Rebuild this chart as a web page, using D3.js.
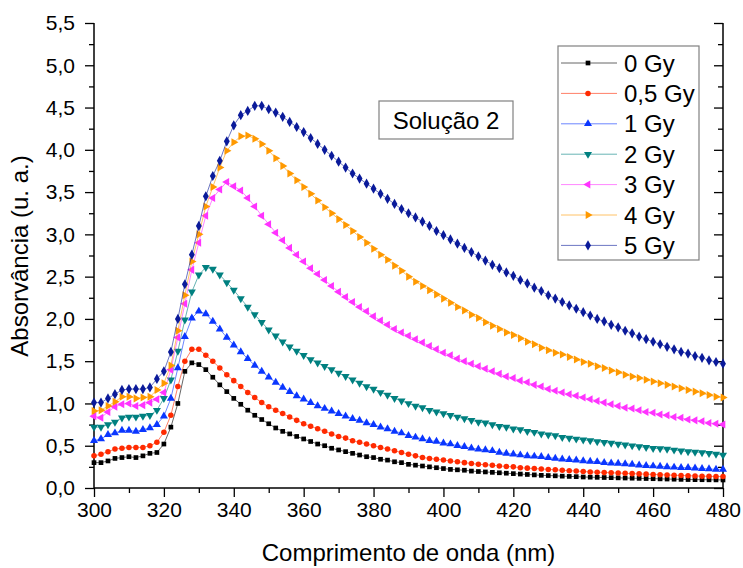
<!DOCTYPE html>
<html><head><meta charset="utf-8">
<script src="https://cdn.jsdelivr.net/npm/d3@7"></script>
<style>body{margin:0;background:#fff}svg{display:block;font-family:"Liberation Sans",Arial,sans-serif}</style>
</head><body><svg id="c" width="743" height="568"></svg>
<script>
const wavelengths = [300,302,304,306,308,310,312,314,316,318,320,322,324,326,328,330,332,334,336,338,340,342,344,346,348,350,352,354,356,358,360,362,364,366,368,370,372,374,376,378,380,382,384,386,388,390,392,394,396,398,400,402,404,406,408,410,412,414,416,418,420,422,424,426,428,430,432,434,436,438,440,442,444,446,448,450,452,454,456,458,460,462,464,466,468,470,472,474,476,478,480];
const seriesNames = ["0 Gy","0,5 Gy","1 Gy","2 Gy","3 Gy","4 Gy","5 Gy"];
const gy0 = [0.30,0.30,0.32,0.35,0.36,0.37,0.36,0.38,0.41,0.42,0.52,0.72,1.00,1.38,1.48,1.46,1.40,1.31,1.22,1.14,1.06,0.99,0.92,0.86,0.81,0.76,
0.71,0.67,0.64,0.61,0.58,0.55,0.52,0.50,0.47,0.45,0.43,0.41,0.39,0.37,0.36,0.34,0.33,0.31,0.30,0.28,0.27,0.26,0.25,0.24,0.23,0.22,0.215,0.21,0.20,0.195,0.19,0.185,0.18,0.175,0.17,0.165,0.16,0.155,0.15,0.147,0.144,0.14,0.137,0.134,0.13,0.128,0.126,0.124,0.122,0.12,0.118,0.116,0.114,0.112,0.11,0.108,0.106,0.104,0.102,0.10,0.099,0.098,0.097,0.096,0.095];
const gy05 = [0.38,0.40,0.43,0.46,0.47,0.48,0.48,0.48,0.50,0.54,0.66,0.86,1.20,1.50,1.64,1.64,1.57,1.50,1.42,1.34,1.27,1.20,1.13,1.07,1.01,0.96,
0.92,0.88,0.84,0.80,0.76,0.73,0.70,0.67,0.64,0.61,0.59,0.56,0.54,0.52,0.50,0.48,0.46,0.44,0.42,0.40,0.38,0.36,0.35,0.34,0.33,0.32,0.31,0.30,0.29,0.28,0.275,0.27,0.26,0.255,0.25,0.24,0.235,0.23,0.225,0.22,0.215,0.21,0.205,0.20,0.195,0.19,0.187,0.184,0.18,0.177,0.174,0.17,0.167,0.164,0.16,0.157,0.154,0.151,0.148,0.145,0.142,0.14,0.138,0.136,0.135];
const gy1 = [0.56,0.58,0.63,0.65,0.68,0.68,0.67,0.69,0.71,0.75,0.85,1.06,1.42,1.79,2.01,2.09,2.06,1.97,1.88,1.78,1.69,1.61,1.53,1.45,1.38,1.31,
1.25,1.19,1.14,1.09,1.05,1.01,0.97,0.94,0.91,0.88,0.85,0.82,0.80,0.77,0.75,0.72,0.70,0.67,0.65,0.62,0.60,0.58,0.56,0.55,0.53,0.52,0.50,0.49,0.47,0.46,0.45,0.44,0.42,0.41,0.40,0.39,0.38,0.375,0.37,0.36,0.35,0.34,0.335,0.33,0.32,0.315,0.31,0.30,0.295,0.29,0.285,0.28,0.27,0.265,0.26,0.255,0.25,0.245,0.24,0.24,0.235,0.23,0.225,0.22,0.22];
const gy2 = [0.72,0.72,0.75,0.78,0.83,0.84,0.84,0.85,0.86,0.92,1.06,1.28,1.62,1.99,2.32,2.52,2.61,2.59,2.52,2.43,2.34,2.24,2.14,2.05,1.96,1.87,
1.80,1.73,1.67,1.62,1.57,1.52,1.48,1.44,1.40,1.36,1.32,1.28,1.24,1.20,1.17,1.13,1.10,1.06,1.03,1.00,0.97,0.95,0.92,0.90,0.88,0.86,0.84,0.82,0.80,0.78,0.77,0.75,0.73,0.72,0.70,0.69,0.67,0.66,0.64,0.63,0.62,0.60,0.59,0.58,0.57,0.56,0.55,0.54,0.53,0.52,0.51,0.50,0.49,0.48,0.47,0.465,0.46,0.45,0.44,0.43,0.425,0.42,0.41,0.40,0.39];
const gy3 = [0.85,0.83,0.90,0.96,0.99,1.00,0.97,0.98,1.01,1.05,1.13,1.40,1.78,2.18,2.58,2.90,3.22,3.43,3.53,3.62,3.57,3.52,3.43,3.33,3.22,3.12,
3.02,2.93,2.84,2.76,2.68,2.60,2.53,2.46,2.39,2.32,2.26,2.20,2.14,2.09,2.03,1.98,1.93,1.88,1.84,1.80,1.76,1.72,1.68,1.64,1.60,1.57,1.53,1.50,1.47,1.44,1.41,1.38,1.35,1.32,1.30,1.27,1.25,1.22,1.20,1.17,1.15,1.13,1.11,1.09,1.07,1.05,1.03,1.01,0.99,0.97,0.95,0.94,0.92,0.90,0.89,0.87,0.86,0.84,0.83,0.81,0.80,0.79,0.77,0.76,0.75];
const gy4 = [0.91,0.92,0.97,1.02,1.08,1.08,1.06,1.07,1.08,1.16,1.24,1.45,1.86,2.28,2.68,3.00,3.33,3.56,3.79,3.99,4.09,4.16,4.17,4.13,4.07,3.99,
3.90,3.81,3.72,3.64,3.56,3.48,3.40,3.32,3.25,3.18,3.11,3.04,2.97,2.90,2.83,2.76,2.70,2.63,2.57,2.50,2.44,2.39,2.34,2.29,2.24,2.19,2.14,2.10,2.05,2.01,1.96,1.92,1.88,1.84,1.81,1.77,1.73,1.70,1.66,1.63,1.60,1.58,1.55,1.52,1.49,1.47,1.44,1.42,1.39,1.37,1.34,1.32,1.30,1.28,1.26,1.24,1.22,1.20,1.18,1.16,1.14,1.12,1.10,1.08,1.07];
const gy5 = [1.01,1.01,1.06,1.11,1.16,1.17,1.17,1.17,1.19,1.29,1.38,1.61,2.00,2.41,2.76,3.10,3.45,3.69,3.87,4.10,4.29,4.41,4.46,4.52,4.52,4.48,
4.44,4.39,4.33,4.27,4.21,4.14,4.07,4.00,3.93,3.86,3.79,3.72,3.66,3.60,3.54,3.48,3.42,3.36,3.30,3.25,3.20,3.15,3.10,3.04,2.99,2.94,2.89,2.84,2.79,2.74,2.69,2.64,2.60,2.55,2.51,2.46,2.42,2.37,2.33,2.28,2.24,2.20,2.16,2.12,2.08,2.04,2.00,1.97,1.93,1.90,1.86,1.83,1.79,1.76,1.73,1.70,1.67,1.64,1.61,1.59,1.56,1.54,1.51,1.49,1.47];
const xTicks = [300,320,340,360,380,400,420,440,460,480];
const yTicks = [0,0.5,1,1.5,2,2.5,3,3.5,4,4.5,5,5.5];

const allSeries = [gy0,gy05,gy1,gy2,gy3,gy4,gy5];
const colors = ["#000000","#ff2a00","#0a36ff","#008080","#ff33ff","#ff9900","#0a1a9a"];
const symbols = [
  {t:d3.symbolSquare, r:0, s:22},
  {t:d3.symbolCircle, r:0, s:24},
  {t:d3.symbolTriangle, r:0, s:28},
  {t:d3.symbolTriangle, r:180, s:28},
  {t:d3.symbolTriangle, r:-90, s:28},
  {t:d3.symbolTriangle, r:90, s:28},
  {t:d3.symbolDiamond, r:0, s:30}
];

const svg = d3.select("#c");
const X0=94, X1=723, Y0=488, Y1=23;
const x = d3.scaleLinear().domain([300,480]).range([X0,X1]);
const y = d3.scaleLinear().domain([0,5.5]).range([Y0,Y1]);
const fmt = v => d3.format(".1f")(v).replace(".",",");

const g = svg.append("g");
const lineC = "#000";
// left axis
const yAx = g.append("g").attr("transform",`translate(${X0},0)`)
  .call(d3.axisLeft(y).tickValues(yTicks).tickFormat(fmt).tickSize(9).tickPadding(10));
yAx.select(".domain").remove();
yAx.selectAll("text").attr("font-size",21).attr("fill","#000");
g.append("g").attr("transform",`translate(${X0},0)`)
  .call(d3.axisLeft(y).tickValues(d3.range(0.25,5.5,0.5)).tickFormat("").tickSize(5))
  .select(".domain").remove();
// right axis (inward ticks)
g.append("g").attr("transform",`translate(${X1},0)`)
  .call(d3.axisLeft(y).tickValues(yTicks).tickFormat("").tickSize(9)).select(".domain").remove();
g.append("g").attr("transform",`translate(${X1},0)`)
  .call(d3.axisLeft(y).tickValues(d3.range(0.25,5.5,0.5)).tickFormat("").tickSize(5)).select(".domain").remove();
// bottom axis
const xAx = g.append("g").attr("transform",`translate(0,${Y0})`)
  .call(d3.axisBottom(x).tickValues(xTicks).tickFormat(d=>d).tickSize(9).tickPadding(5));
xAx.select(".domain").remove();
xAx.selectAll("text").attr("font-size",21).attr("fill","#000");
g.append("g").attr("transform",`translate(0,${Y0})`)
  .call(d3.axisBottom(x).tickValues(d3.range(310,480,20)).tickFormat("").tickSize(5)).select(".domain").remove();
g.selectAll(".tick line").attr("stroke","#000").attr("stroke-width",1.3);
g.append("line").attr("x1",X0).attr("x2",X0).attr("y1",Y1).attr("y2",Y0).attr("stroke",lineC).attr("stroke-width",1.5);
g.append("line").attr("x1",X1).attr("x2",X1).attr("y1",Y1).attr("y2",Y0).attr("stroke",lineC).attr("stroke-width",1.5);
g.append("line").attr("x1",X0).attr("x2",X1).attr("y1",Y0).attr("y2",Y0).attr("stroke",lineC).attr("stroke-width",1.5);

// series
const line = d3.line().x((d,i)=>x(wavelengths[i])).y(d=>y(d));
allSeries.forEach((vals,k)=>{
  svg.append("path").attr("d",line(vals)).attr("fill","none")
    .attr("stroke",colors[k]).attr("stroke-opacity",0.6).attr("stroke-width",1);
  const sym = d3.symbol().type(symbols[k].t).size(symbols[k].s);
  svg.append("g").selectAll("path").data(vals).join("path")
    .attr("d",sym)
    .attr("transform",(d,i)=>`translate(${x(wavelengths[i])},${y(d)}) rotate(${symbols[k].r})`)
    .attr("fill",colors[k]);
});

// axis titles
svg.append("text").attr("x",(X0+X1)/2).attr("y",561).attr("text-anchor","middle")
  .attr("font-size",24).text("Comprimento de onda (nm)");
svg.append("text").attr("transform","translate(28,256) rotate(-90)").attr("text-anchor","middle")
  .attr("font-size",24).text("Absorvância (u. a.)");

// annotation box
svg.append("rect").attr("x",379).attr("y",101).attr("width",134).attr("height",38)
  .attr("fill","#fff").attr("stroke","#808080").attr("stroke-width",1.2);
svg.append("text").attr("x",446).attr("y",129).attr("text-anchor","middle").attr("font-size",24).text("Solução 2");

// legend
const lg = svg.append("g");
lg.append("rect").attr("x",558).attr("y",46).attr("width",141).attr("height",214)
  .attr("fill","#fff").attr("stroke","#808080").attr("stroke-width",1.2);
seriesNames.forEach((name,k)=>{
  const yy = 63 + k*30.4;
  lg.append("line").attr("x1",561).attr("x2",617).attr("y1",yy).attr("y2",yy)
    .attr("stroke",colors[k]).attr("stroke-opacity",0.6).attr("stroke-width",1);
  lg.append("path").attr("d",d3.symbol().type(symbols[k].t).size(symbols[k].s)())
    .attr("transform",`translate(588,${yy}) rotate(${symbols[k].r})`).attr("fill",colors[k]);
  lg.append("text").attr("x",624).attr("y",yy+8.5).attr("font-size",24).text(name);
});
</script></body></html>
